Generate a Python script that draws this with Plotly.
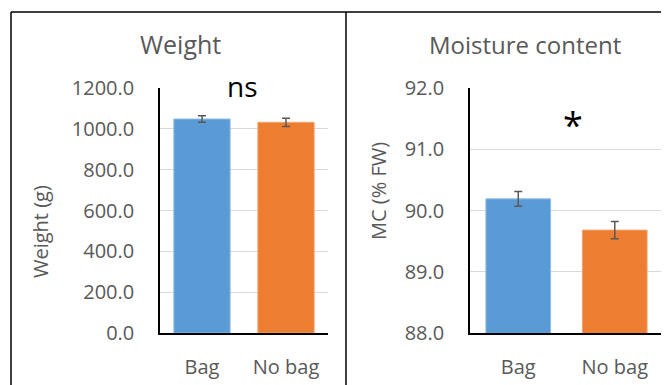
import plotly.graph_objects as go

categories = ["Bag", "No bag"]
weight_values = [1048, 1032]
weight_errors = [16, 20]
mc_values = [90.19, 89.68]
mc_errors = [0.12, 0.14]
colors = ["#5B9BD5", "#ED7D31"]
edge_colors = ["#8DBBE6", "#F3A46E"]
weight_ticks = [0, 200, 400, 600, 800, 1000, 1200]
mc_ticks = [88, 89, 90, 91, 92]

W, H = 669, 385
OFF = 8  # page body margin compensation
def px(x): return (x - OFF) / W
def py(y): return 1 - (y - OFF) / H

FONT = "Open Sans"
GRAY = "#595959"

fig = go.Figure()
fig.add_trace(go.Bar(
    x=categories, y=weight_values, xaxis="x", yaxis="y",
    marker=dict(color=colors, line=dict(color=edge_colors, width=1)),
    error_y=dict(type="data", array=weight_errors, color=GRAY, thickness=1.5, width=4),
    width=0.67, showlegend=False))
fig.add_trace(go.Bar(
    x=categories, y=mc_values, xaxis="x2", yaxis="y2",
    marker=dict(color=colors, line=dict(color=edge_colors, width=1)),
    error_y=dict(type="data", array=mc_errors, color=GRAY, thickness=1.5, width=4),
    width=0.67, showlegend=False))

ydom = [py(333), py(88)]
common_x = dict(showgrid=False, showline=True, linecolor="#000000", linewidth=1.5,
                ticks="", tickfont=dict(family=FONT, size=20, color=GRAY),
                ticklabelstandoff=15, automargin=False, zeroline=False)
common_y = dict(showgrid=True, gridcolor="#D9D9D9", gridwidth=1,
                showline=True, linecolor="#000000", linewidth=1.5,
                ticks="", tickfont=dict(family=FONT, size=20, color=GRAY),
                ticklabelstandoff=20, zeroline=False, automargin=False)

fig.update_layout(
    template="none",
    width=W, height=H, margin=dict(l=0, r=0, t=0, b=0, pad=0, autoexpand=False),
    paper_bgcolor="white", plot_bgcolor="white",
    xaxis=dict(domain=[px(160), px(328)], anchor="y", **common_x),
    yaxis=dict(domain=ydom, anchor="x", range=[0, 1200], tickvals=weight_ticks,
               ticktext=[f"{v:.1f}" for v in weight_ticks], **common_y),
    xaxis2=dict(domain=[px(470), px(663)], anchor="y2", **common_x),
    yaxis2=dict(domain=ydom, anchor="x2", range=[88, 92], tickvals=mc_ticks,
                ticktext=[f"{v:.1f}" for v in mc_ticks], **common_y),
)

# frame lines
line = dict(color="#000000", width=1.5)
fig.add_shape(type="line", xref="paper", yref="paper", x0=px(11), x1=1, y0=py(12), y1=py(12), line=line)
fig.add_shape(type="line", xref="paper", yref="paper", x0=px(11), x1=px(11), y0=py(12), y1=0, line=line)
fig.add_shape(type="line", xref="paper", yref="paper", x0=px(346), x1=px(346), y0=py(12), y1=0, line=line)

def ann(text, x, y, size, color=GRAY, angle=0):
    fig.add_annotation(text=text, xref="paper", yref="paper", x=px(x), y=py(y),
                       showarrow=False, textangle=angle, xanchor="center", yanchor="middle",
                       font=dict(family=FONT, size=size, color=color))

ann("Weight", 180, 44, 25)
ann("Moisture content", 525, 44, 24)
ann("Weight (g)", 40, 232, 20, angle=-90)
ann("MC (% FW)", 378, 191, 20, angle=-90)
ann("ns", 243, 86, 28, color="#000000")
ann("*", 573, 124, 36, color="#000000")

fig.write_html("out.html")
